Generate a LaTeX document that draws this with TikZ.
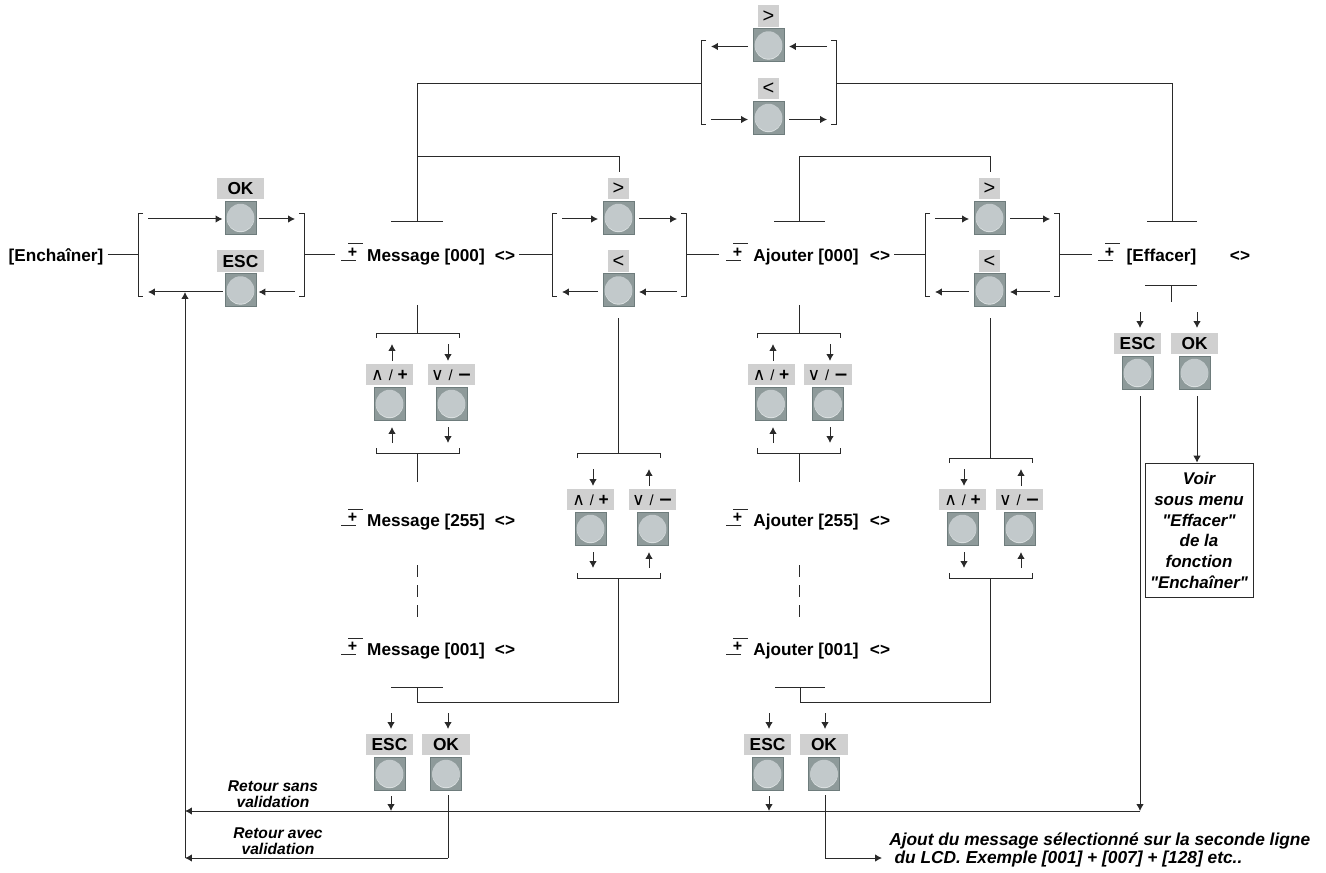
\documentclass[tikz,border=0pt]{standalone}
\usepackage{fontspec}
\setmainfont{Liberation Sans}
\newfontfamily\plainf{Liberation Sans}
\newfontfamily\symf{DejaVu Sans}
\usetikzlibrary{arrows.meta}
\definecolor{ink}{HTML}{2A2A2A}
\definecolor{labg}{HTML}{D0D0D0}
\definecolor{btnb}{HTML}{8E9A9A}
\definecolor{btne}{HTML}{6E7C7C}
\definecolor{btnc}{HTML}{C2C9CB}
\definecolor{btnr}{HTML}{DDE2E2}
\tikzset{
  ln/.style={draw=ink,line width=.75pt},
  arr/.style={draw=ink,line width=.75pt,-{Latex[length=5.2pt,width=5.6pt]}},
  glabel/.style={fill=labg,minimum width=#1*.75pt,minimum height=16.2pt,inner sep=0pt,font=\fontsize{13}{14}\selectfont\bfseries,text height=9.3pt,text depth=0pt},
  btnbox/.style={fill=btnb,draw=btne,line width=.4pt,minimum width=23pt,minimum height=24.6pt,inner sep=0pt},
  btnface/.style={fill=btnc},
  btnrim/.style={fill=btnr},
  menutext/.style={font=\fontsize{12.9}{14}\selectfont\bfseries,inner sep=3pt,text height=10.5pt,text depth=.6pt},
  note/.style={font=\plainf\fontsize{11.7}{12}\selectfont\bfseries\itshape,align=center,inner sep=0pt},
}
\newcommand\btn[5]{%
  \node[glabel=#4] (#1-lab) at ({#2},{#3+10.5}) {#5};
  \node[btnbox] (#1) at ({#2},{#3+39.5}) {};
  \fill[btnrim] ([yshift=-.7pt]#1.center) circle (10.3pt);
  \fill[btnface] (#1.center) circle (10.3pt);
}
\newcommand\arw[5]{\coordinate (#1a) at (#2,#3);\coordinate (#1b) at (#4,#5);\draw[arr] (#1a) -- (#1b);}
\newcommand\vbracket[5]{%
  \coordinate (#1a) at ({#2+#5*5},#3);\coordinate (#1b) at (#2,#3);\coordinate (#1c) at (#2,#4);\coordinate (#1d) at ({#2+#5*5},#4);
  \draw[ln] (#1a) -- (#1b) -- (#1c) -- (#1d);}
\newcommand\hbracket[5]{%
  \coordinate (#1a) at (#2,{#4+#5*5});\coordinate (#1b) at (#2,#4);\coordinate (#1c) at (#3,#4);\coordinate (#1d) at (#3,{#4+#5*5});
  \draw[ln] (#1a) -- (#1b) -- (#1c) -- (#1d);}
\def\sgap{20.5}
\def\lsym{{\normalfont\fontsize{15}{15}\selectfont <}}
\def\gsym{{\normalfont\fontsize{15}{15}\selectfont >}}
% horizontal stack: name cx top xl xr width t1 t2 ; #9 = 1 if top row goes right
\newcommand\hstack[9]{%
  \btn{#1-t}{#2}{#3}{#6}{#7}
  \btn{#1-b}{#2}{#3+72.5}{#6}{#8}
  \vbracket{#1-L}{#4}{#3+35.5}{#3+119}{1}
  \vbracket{#1-R}{#5}{#3+35.5}{#3+119}{-1}
  \ifnum#9=1
   \arw{#1-p}{#4+10}{#3+41}{#2-\sgap}{#3+41}\arw{#1-q}{#2+\sgap}{#3+41}{#5-9}{#3+41}
   \arw{#1-r}{#2-\sgap}{#3+114}{#4+10}{#3+114}\arw{#1-s}{#5-9}{#3+114}{#2+\sgap}{#3+114}
  \else
   \arw{#1-p}{#2-\sgap}{#3+41}{#4+10}{#3+41}\arw{#1-q}{#5-9}{#3+41}{#2+\sgap}{#3+41}
   \arw{#1-r}{#4+10}{#3+114}{#2-\sgap}{#3+114}\arw{#1-s}{#2+\sgap}{#3+114}{#5-9}{#3+114}
  \fi
}
\def\upsym{{\symf\mdseries\fontsize{13}{14}\selectfont ∧} {\normalfont\fontsize{11}{12}\selectfont /} +}
\def\dnsym{{\symf\mdseries\fontsize{13}{14}\selectfont ∨} {\normalfont\fontsize{11}{12}\selectfont /} {\symf −}}
% vertical stack: name xl y0 labeltop cx1 cx2 arrow1 arrow2 ; #9=1 if first column goes up
\newcommand\vstack[9]{%
  \hbracket{#1-T}{#2}{#2+83.5}{#3}{1}
  \hbracket{#1-B}{#2}{#2+83.5}{#4+89}{-1}
  \btn{#1-u}{#5}{#4}{47}{\upsym}
  \btn{#1-d}{#6}{#4}{47.5}{\dnsym}
  \ifnum#9=1
   \arw{#1-p}{#7}{#4-3}{#7}{#4-20}\arw{#1-q}{#8}{#4-20}{#8}{#4-3}
   \arw{#1-r}{#7}{#4+79}{#7}{#4+63}\arw{#1-s}{#8}{#4+63}{#8}{#4+79}
  \else
   \arw{#1-p}{#7}{#4-20}{#7}{#4-3}\arw{#1-q}{#8}{#4-3}{#8}{#4-20}
   \arw{#1-r}{#7}{#4+63}{#7}{#4+79}\arw{#1-s}{#8}{#4+79}{#8}{#4+63}
  \fi
}
% plus/minus sign: name x y
\newcommand\pmsign[3]{%
  \coordinate (#1a) at ({#2+7},{#3-11});\coordinate (#1b) at ({#2+22},{#3-11});
  \coordinate (#1c) at (#2,{#3+5.5});\coordinate (#1d) at ({#2+15},{#3+5.5});
  \draw[ln] (#1a) -- (#1b);\draw[ln] (#1c) -- (#1d);
  \node[font=\fontsize{12}{12}\selectfont\bfseries,inner sep=0pt] (#1p) at ({#2+11.5},{#3-2.5}) {+};
}
\begin{document}
\begin{tikzpicture}[x=.75pt,y=-.75pt]
\useasboundingbox (0,0) rectangle (1326,873);
% menu texts
\node[menutext] (enc) at (56,255) {[Enchaîner]};
\pmsign{pm1}{341}{255}
\node[menutext] (m0) at (426,255) {Message [000]};
\node[menutext] (m0x) at (505,255) {<>};
\pmsign{pm2}{726}{255}
\node[menutext] (a0) at (806,255) {Ajouter [000]};
\node[menutext] (a0x) at (880,255) {<>};
\pmsign{pm3}{1098}{255}
\node[menutext] (eff) at (1161.5,255) {[Effacer]};
\node[menutext] (effx) at (1240,255) {<>};
\pmsign{pm4}{341}{520}
\node[menutext] (m255) at (426,520) {Message [255]};
\node[menutext] (m255x) at (505,520) {<>};
\pmsign{pm5}{341}{649}
\node[menutext] (m1) at (426,649) {Message [001]};
\node[menutext] (m1x) at (505,649) {<>};
\pmsign{pm6}{726}{520}
\node[menutext] (a255) at (806,520) {Ajouter [255]};
\node[menutext] (a255x) at (880,520) {<>};
\pmsign{pm7}{726}{649}
\node[menutext] (a1) at (806,649) {Ajouter [001]};
\node[menutext] (a1x) at (880,649) {<>};
% stacks
\def\sgap{18}
\hstack{A}{240.5}{178}{138}{304}{47}{OK}{ESC}{1}
\def\sgap{20.5}
\hstack{B}{618.5}{178}{552}{686}{21}{\gsym}{\lsym}{1}
\hstack{C}{989.5}{178}{925}{1059}{21}{\gsym}{\lsym}{1}
\hstack{D}{768.5}{5.5}{701}{836}{21}{\gsym}{\lsym}{0}
\vstack{V1}{376}{333}{364}{389.5}{451.5}{392}{448}{1}
\vstack{V2}{577}{453}{489}{590.5}{652.5}{593}{649}{0}
\vstack{V3}{757}{333}{364}{771}{828}{773}{830}{1}
\vstack{V4}{949}{458}{489}{962.5}{1019.5}{964}{1021}{0}
% row connectors
\coordinate (Aml) at (138,255);\coordinate (Amr) at (304,255);
\coordinate (Bml) at (552,255);\coordinate (Bmr) at (686,255);
\coordinate (Cml) at (925,255);\coordinate (Cmr) at (1059,255);
\coordinate (Dml) at (701,84);\coordinate (Dmr) at (836,84);
\coordinate (p1) at (335,255);\coordinate (p2) at (719,255);\coordinate (p3) at (1092,255);
\draw[ln] (enc.east) -- (Aml);
\draw[ln] (Amr) -- (p1);
\draw[ln] (m0x.east) -- (Bml);
\draw[ln] (Bmr) -- (p2);
\draw[ln] (a0x.east) -- (Cml);
\draw[ln] (Cmr) -- (p3);
% T bars above
\coordinate (t1c) at (417,222);\coordinate (t1l) at (391,222);\coordinate (t1r) at (443,222);
\coordinate (t2c) at (799,222);\coordinate (t2l) at (774,222);\coordinate (t2r) at (825,222);
\coordinate (t3c) at (1172,222);\coordinate (t3l) at (1147,222);\coordinate (t3r) at (1197,222);
\draw[ln] (t1l) -- (t1r);\draw[ln] (t2l) -- (t2r);\draw[ln] (t3l) -- (t3r);
\coordinate (c1) at (417,84);\coordinate (c2) at (1172,84);
\draw[ln] (t1c) -- (c1) -- (Dml);
\draw[ln] (Dmr) -- (c2) -- (t3c);
\coordinate (c3) at (417,157);\coordinate (c4) at (619,157);\coordinate (c5) at (619,172);
\draw[ln] (c3) -- (c4) -- (c5);
\coordinate (c6) at (799,157);\coordinate (c7) at (990,157);\coordinate (c8) at (990,172);
\draw[ln] (t2c) -- (c6) -- (c7) -- (c8);
% vertical links
\coordinate (v1a) at (417,305);\coordinate (v1b) at (417,333);\draw[ln] (v1a) -- (v1b);
\coordinate (v1c) at (417,453);\coordinate (v1d) at (417,482);\draw[ln] (v1c) -- (v1d);
\coordinate (v3a) at (799,305);\coordinate (v3b) at (799,333);\draw[ln] (v3a) -- (v3b);
\coordinate (v3c) at (799,453);\coordinate (v3d) at (799,482);\draw[ln] (v3c) -- (v3d);
\coordinate (d1a) at (417,565);\coordinate (d1b) at (417,622);\draw[ln,dash pattern=on 9pt off 6pt] (d1a) -- (d1b);
\coordinate (d2a) at (799,565);\coordinate (d2b) at (799,622);\draw[ln,dash pattern=on 9pt off 6pt] (d2a) -- (d2b);
\coordinate (v2a) at (618,318);\coordinate (v2b) at (618,453);\draw[ln] (v2a) -- (v2b);
\coordinate (v4a) at (990,318);\coordinate (v4b) at (990,458);\draw[ln] (v4a) -- (v4b);
% bottom T bars
\coordinate (b1l) at (391,687);\coordinate (b1r) at (443,687);\coordinate (b1c) at (417,687);
\coordinate (b1d) at (417,702);\coordinate (b1e) at (618,702);\coordinate (b1f) at (618,578);
\draw[ln] (b1l) -- (b1r);\draw[ln] (b1c) -- (b1d) -- (b1e) -- (b1f);
\coordinate (b2l) at (775,687);\coordinate (b2r) at (825,687);\coordinate (b2c) at (800,687);
\coordinate (b2d) at (800,702);\coordinate (b2e) at (990,702);\coordinate (b2f) at (990,578);
\draw[ln] (b2l) -- (b2r);\draw[ln] (b2c) -- (b2d) -- (b2e) -- (b2f);
% ESC / OK under Message and Ajouter
\btn{e1}{389.5}{734}{47}{ESC}
\btn{o1}{446}{734}{47.5}{OK}
\btn{e2}{767.5}{734}{47}{ESC}
\btn{o2}{824}{734}{47.5}{OK}
\arw{e1in}{391}{713}{391}{729}
\arw{o1in}{448}{713}{448}{729}
\arw{e2in}{769}{713}{769}{729}
\arw{o2in}{825}{713}{825}{729}
\arw{e1out}{391}{796}{391}{811}
\arw{e2out}{769}{796}{769}{811}
% Effacer
\coordinate (ta) at (1145,286);\coordinate (tb) at (1197,286);\draw[ln] (ta) -- (tb);
\coordinate (tc) at (1171,286);\coordinate (td) at (1171,302);\draw[ln] (tc) -- (td);
\btn{e3}{1137.5}{333}{47}{ESC}
\btn{o3}{1194.5}{333}{47.5}{OK}
\arw{e3in}{1140}{312}{1140}{328}
\arw{o3in}{1197}{312}{1197}{328}
\node[draw=ink,line width=.75pt,minimum width=81pt,minimum height=101pt,inner sep=0pt,font=\plainf\fontsize{12.7}{15.6}\selectfont\bfseries\itshape,align=center] (box) at (1199,530.5) {Voir\\sous menu\\"Effacer"\\de la\\fonction\\"Enchaîner"};
\coordinate (o3out) at (1197,396);\coordinate (boxin) at (box.north -| o3out);
\draw[arr] (o3out) -- (boxin);
% return lines
\coordinate (r1) at (1140,396);\coordinate (r2) at (1140,811);\coordinate (r3) at (185,811);
\draw[arr] (r1) -- (r2);
\draw[arr] (r2) -- (r3);
\coordinate (r4) at (448,795);\coordinate (r5) at (448,858);\coordinate (r6) at (185,858);
\draw[ln] (r4) -- (r5);\draw[arr] (r5) -- (r6);
\coordinate (r7) at (185,858);\coordinate (r8) at (185,292);
\draw[arr] (r7) -- (r8);
\coordinate (r9) at (825,795);\coordinate (r10) at (825,858);\coordinate (r11) at (882,858);
\draw[ln] (r9) -- (r10);\draw[arr] (r10) -- (r11);
% notes
\node[note] (n1) at (273,794) {Retour sans\\validation};
\node[note] (n2) at (278,841) {Retour avec\\validation};
\node[note,anchor=west,align=left,font=\plainf\fontsize{13}{10.6}\selectfont\bfseries\itshape] (n3) at (889,850) {Ajout du message sélectionné sur la seconde ligne\\\hspace*{4pt}du LCD. Exemple [001] + [007] + [128] etc..};
\end{tikzpicture}
\end{document}
